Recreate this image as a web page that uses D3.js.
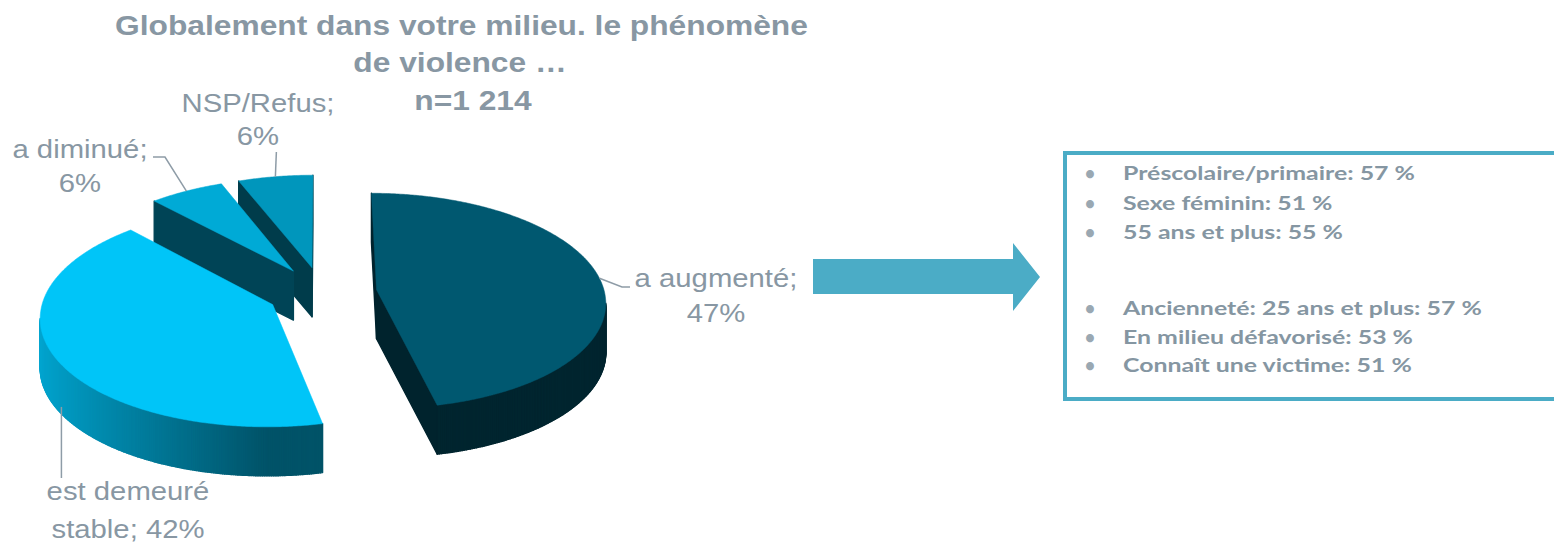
<!DOCTYPE html>
<html><head><meta charset="utf-8">
<script src="https://cdn.jsdelivr.net/npm/d3@7"></script>
<style>body{margin:0;background:#fff;overflow:hidden}</style>
</head><body><svg id="c" width="1554" height="546"></svg>
<script>
// ---------- data ----------
const categories = ["a augmenté", "est demeuré stable", "a diminué", "NSP/Refus"];
const values = [47, 42, 6, 6];
const labelLines = [["a augmenté;", "47%"], ["est demeuré", "stable; 42%"], ["a diminué;", "6%"], ["NSP/Refus;", "6%"]];
const titleLines = ["Globalement dans votre milieu. le phénomène", "de violence …", "n=1 214"];
const bulletGroup1 = ["Préscolaire/primaire: 57 %", "Sexe féminin: 51 %", "55 ans et plus: 55 %"];
const bulletGroup2 = ["Ancienneté: 25 ans et plus: 57 %", "En milieu défavorisé: 53 %", "Connaît une victime:  51 %"];

// ---------- styles / layout ----------
const sliceColors = ["#005870", "#00C5F8", "#00AAD6", "#0096BC"];
const textColor = "#8897A3";
const lineColor = "#8E9CA7";
const accent = "#4BACC6";
const G = {cx: 322, cy: 292.5, R: 228, explode: 55, k: 0.469, persp: 2208, T: 49};

const svg = d3.select("#c");

// pie angles through d3
const arcs = d3.pie().sort(null).value(d => d).startAngle(0).endAngle(2 * Math.PI)(values);

function proj(x, z, d) {
  const s = 1 / (1 - z / G.persp);
  return [G.cx + x * s, G.cy + z * G.k * s + d];
}
function shade(c, f) {
  const r = d3.rgb(c);
  return d3.rgb(r.r * f, r.g * f, r.b * f).formatHex();
}
function area(pts) {
  let s = 0;
  for (let i = 0; i < pts.length; i++) {
    const a = pts[i], b = pts[(i + 1) % pts.length];
    s += a[0] * b[1] - b[0] * a[1];
  }
  return s;
}
const line = d3.line();

const slices = arcs.map((a, i) => {
  const mid = (a.startAngle + a.endAngle) / 2;
  const ax = G.explode * Math.sin(mid), az = -G.explode * Math.cos(mid);
  const outer = (ang, d) => proj(ax + G.R * Math.sin(ang), az - G.R * Math.cos(ang), d);
  const apex = d => proj(ax, az, d);
  return {i, a, mid, ax, az, outer, apex};
});

const pieG = svg.append("g");
slices.slice().sort((p, q) => p.az - q.az).forEach(sl => {
  const g = pieG.append("g");
  const col = sliceColors[sl.i];
  const s0 = sl.a.startAngle, e0 = sl.a.endAngle;
  const walls = [];
  walls.push({pts: [sl.apex(0), sl.outer(s0, 0), sl.outer(s0, G.T), sl.apex(G.T)], f: 0.4});
  const n = Math.max(2, Math.ceil((e0 - s0) / (Math.PI / 360)));
  for (let j = 0; j < n; j++) {
    const t1 = s0 + (e0 - s0) * j / n, t2 = s0 + (e0 - s0) * (j + 1) / n;
    const tm = (t1 + t2) / 2;
    const f = 0.42 + 0.42 * Math.max(0, -Math.sin(tm));
    walls.push({pts: [sl.outer(t1, 0), sl.outer(t2, 0), sl.outer(t2, G.T), sl.outer(t1, G.T)], f});
  }
  walls.push({pts: [sl.outer(e0, 0), sl.apex(0), sl.apex(G.T), sl.outer(e0, G.T)], f: 0.4});
  walls.filter(w => area(w.pts) < 0).forEach(w => {
    const c = shade(col, w.f);
    g.append("path").attr("d", line(w.pts) + "Z").attr("fill", c).attr("stroke", c).attr("stroke-width", 1.4).attr("stroke-linejoin", "round");
  });
  const top = [sl.apex(0)];
  for (let j = 0; j <= n; j++) top.push(sl.outer(s0 + (e0 - s0) * j / n, 0));
  g.append("path").attr("d", line(top) + "Z").attr("fill", col).attr("stroke", col).attr("stroke-width", 0.5);
});

// ---------- leader lines ----------
const ll = svg.append("g").attr("fill", "none").attr("stroke", lineColor).attr("stroke-width", 1.5);
{
  const pA = slices[0].outer(slices[0].mid, 0);
  ll.append("path").attr("d", line([pA, [622, 287], [630, 287]]));
  const pS = slices[1].outer(slices[1].mid, G.T);
  ll.append("path").attr("d", line([[pS[0] + 6, pS[1]], [pS[0] + 6, 478]]));
  const pD = slices[2].outer(slices[2].mid, 0);
  ll.append("path").attr("d", line([[153, 157], [165, 157], pD]));
  const pN = slices[3].outer(slices[3].mid, 0);
  ll.append("path").attr("d", line([[pN[0] + 1, 152], pN]));
}

// ---------- labels ----------
const labelPos = [[716, 287, 322], [128, 500, 538], [80, 158, 192], [258, 112, 145]];
const lab = svg.append("g").attr("font-family", "'Liberation Sans', Arial, sans-serif").attr("font-size", 25).attr("fill", textColor).attr("text-anchor", "middle");
// measure to get horizontal stretch factor
const probe = lab.append("text").text(labelLines[3][0]);
const labScale = 153 / probe.node().getComputedTextLength();
probe.remove();
labelLines.forEach((ls, i) => {
  ls.forEach((t, j) => {
    lab.append("text").attr("transform", `translate(${labelPos[i][0]},${labelPos[i][j + 1]}) scale(${labScale},1)`).text(t);
  });
});

// ---------- title ----------
const tg = svg.append("g").attr("font-family", "'Liberation Sans', Arial, sans-serif").attr("font-weight", "bold").attr("font-size", 27).attr("fill", textColor).attr("text-anchor", "middle");
const tp = tg.append("text").text(titleLines[0]);
const tScale = 693 / tp.node().getComputedTextLength();
tp.remove();
const titlePos = [[461.5, 35], [460, 72], [473, 110]];
titleLines.forEach((t, i) => {
  tg.append("text").attr("transform", `translate(${titlePos[i][0]},${titlePos[i][1]}) scale(${tScale},1)`).text(t);
});

// ---------- arrow ----------
svg.append("path")
  .attr("d", "M813,259 L1013,259 L1013,243 L1040,277 L1013,311 L1013,294 L813,294 Z")
  .attr("fill", accent);

// ---------- box ----------
svg.append("rect").attr("x", 1065).attr("y", 153).attr("width", 560).attr("height", 246)
  .attr("fill", "#fff").attr("stroke", accent).attr("stroke-width", 4);

const bg = svg.append("g").attr("font-family", "Lato, 'Open Sans', sans-serif").attr("font-weight", "bold").attr("font-size", 18).attr("fill", "#8596A2").style("white-space", "pre");
const bp = bg.append("text").text(bulletGroup1[0]);
const bScale = 292 / bp.node().getComputedTextLength();
bp.remove();
function bullets(list, y0, step) {
  list.forEach((t, i) => {
    const y = y0 + i * step;
    bg.append("text").attr("x", 1090).attr("y", y).attr("text-anchor", "middle").attr("fill", "#9AA8B2").text("•");
    bg.append("text").attr("transform", `translate(1123,${y}) scale(${bScale},1)`).text(t);
  });
}
bullets(bulletGroup1, 180, 29.5);
bullets(bulletGroup2, 315, 28.7);
</script>
</body></html>
